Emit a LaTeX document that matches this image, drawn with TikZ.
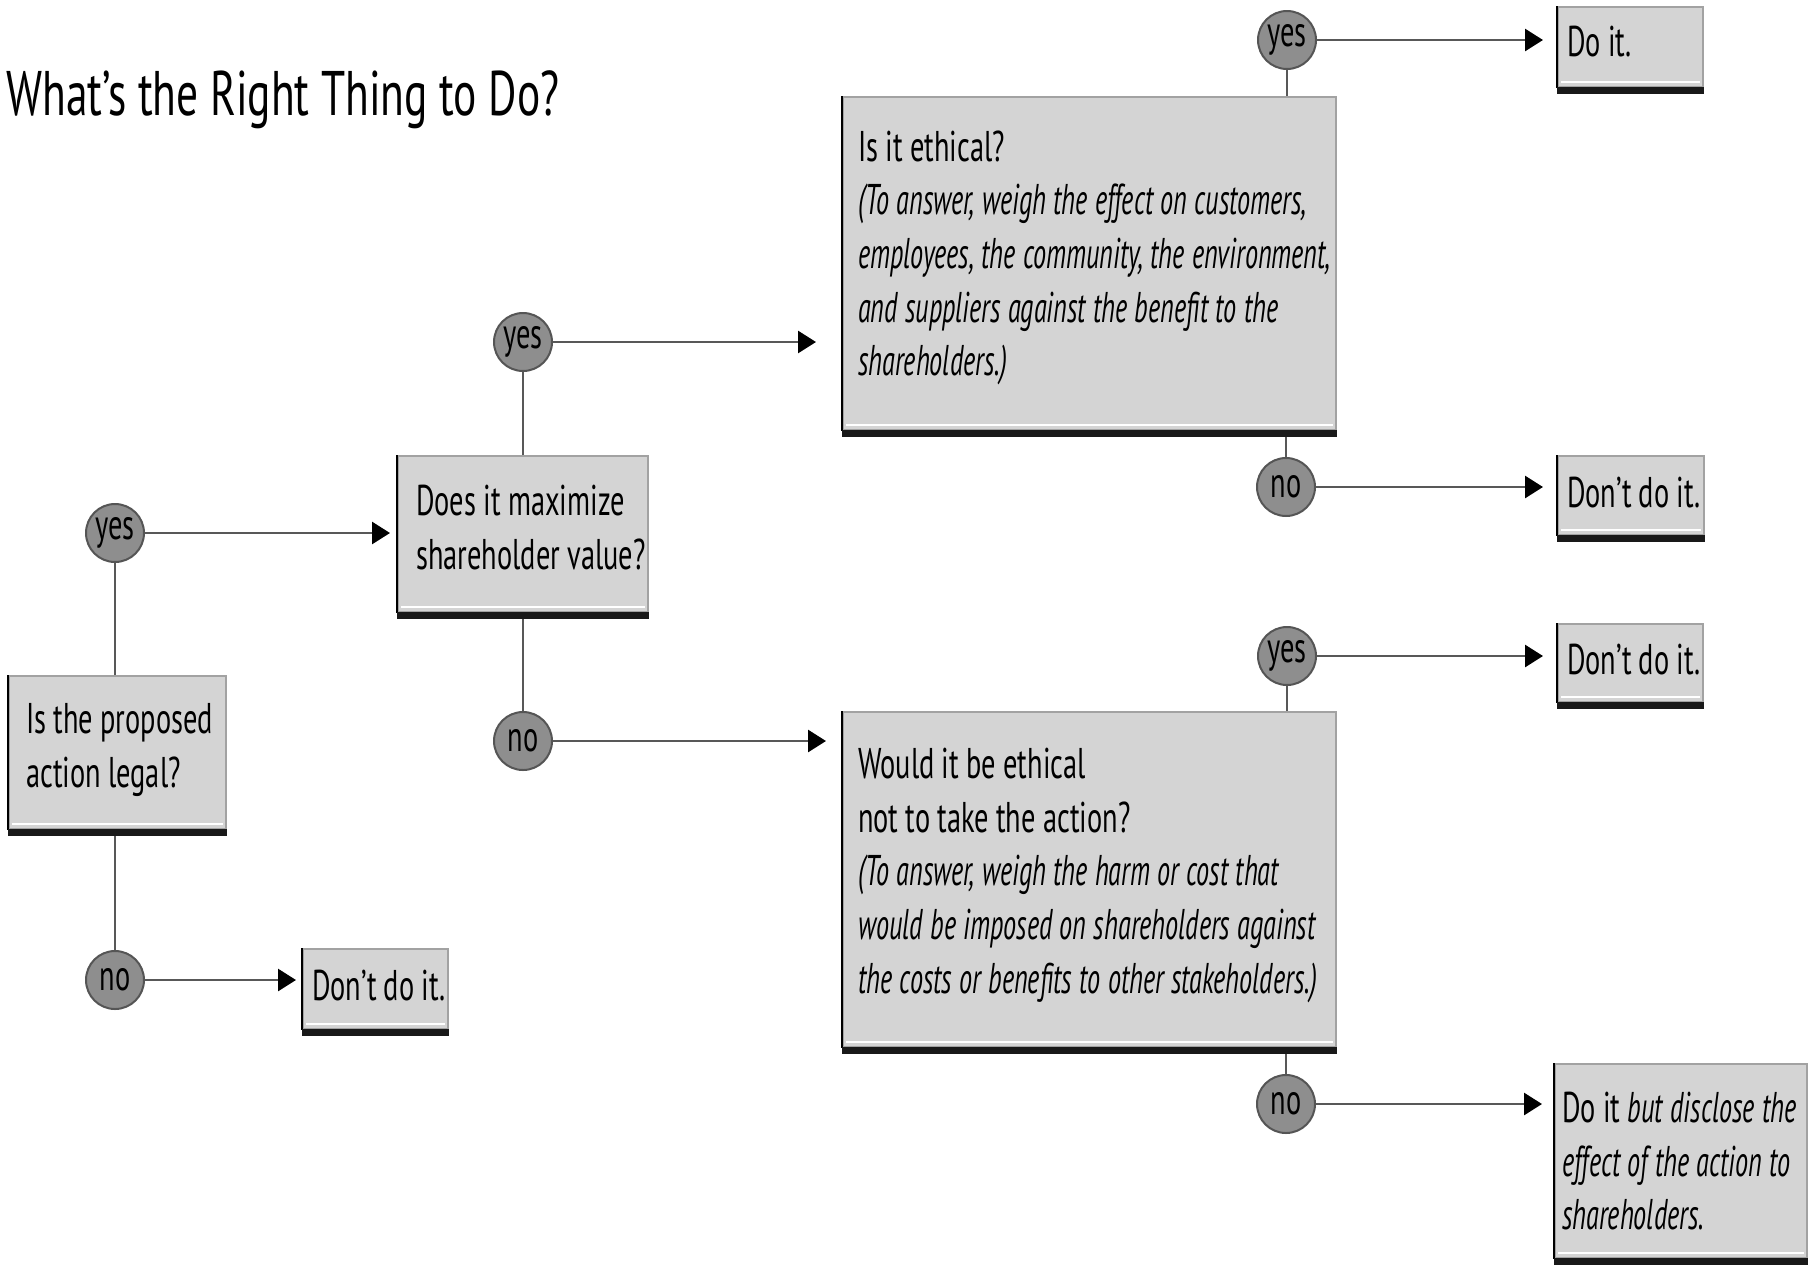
\documentclass[tikz,border=0pt]{standalone}
\usepackage{fontspec}
\setmainfont{PT Sans}[UprightFeatures={FakeStretch=0.66},ItalicFeatures={FakeStretch=0.61}]
\newfontfamily\titlefont{PT Sans}[FakeStretch=0.69]
\usetikzlibrary{arrows.meta,calc}
\definecolor{boxfill}{HTML}{D4D4D4}
\definecolor{boxrim}{HTML}{A2A2A2}
\definecolor{dotfill}{HTML}{8E8E8E}
\definecolor{dotrim}{HTML}{555555}
\definecolor{linkgray}{HTML}{585858}
\newcommand\lastdepth[1]{\rule[-#1]{0pt}{0pt}}
\tikzset{
  qbox/.style={draw=boxrim,line width=1.2pt,fill=boxfill,anchor=north west,align=left,
    inner xsep=0pt,inner ysep=0pt,font=\fontsize{21.5}{26.8}\selectfont,
    execute at begin node={\leftskip=#1\spaceskip=0.17em plus 0.05em minus 0.02em\hyphenpenalty=10000}},
  qbox/.default=8pt,
  answer/.style={circle,draw=dotrim,line width=1pt,fill=dotfill,minimum size=29pt,
    inner sep=0pt,font=\fontsize{21.5}{24}\selectfont},
  link/.style={draw=linkgray,line width=1.4pt},
  arr/.style={link,-{Triangle[length=9pt,width=11pt,color=black]}}
}
\begin{document}
\begin{tikzpicture}[x=0.5pt,y=-0.5pt]
\useasboundingbox (0,0) rectangle (1808,1264);
\node[anchor=base west,inner sep=0pt,font=\titlefont\fontsize{31.5}{36}\selectfont] (title) at (6,115) {What’s the Right Thing to Do?};

\node[qbox=8.5pt,text width=108.5pt,minimum height=76.5pt] (legal) at (8,675) {Is the proposed\\action legal?\lastdepth{7.5pt}};
\node[qbox=9pt,text width=125pt,minimum height=78pt] (maxval) at (397,455) {Does it maximize\\shareholder value?\lastdepth{7pt}};
\node[qbox=7.5pt,text width=246.5pt,minimum height=166.5pt] (ethical) at (842,96)
  {Is it ethical?\\\itshape (To answer, weigh the effect on customers,\\employees, the community, the environment,\\and suppliers against the benefit to the\\shareholders.)\lastdepth{10.5pt}};
\node[qbox=7.5pt,text width=246.5pt,minimum height=167.5pt] (notact) at (842,711)
  {Would it be ethical\\not to take the action?\\\itshape (To answer, weigh the harm or cost that\\would be imposed on shareholders against\\the costs or benefits to other stakeholders.)\lastdepth{9pt}};
\node[qbox=4.5pt,text width=72.5pt,minimum height=40pt,text depth=3.5pt] (dont1) at (302,948) {Don’t do it.};
\node[qbox=4.5pt,text width=72.5pt,minimum height=40pt,text depth=5.8pt] (doit) at (1557,6) {Do it.};
\node[qbox=4.5pt,text width=73pt,minimum height=39.5pt,text depth=3.5pt] (dont2) at (1557,455) {Don’t do it.};
\node[qbox=4.5pt,text width=72.5pt,minimum height=39pt,text depth=3.5pt] (dont3) at (1557,623) {Don’t do it.};
\node[qbox=3.5pt,text width=126pt,minimum height=97pt] (disclose) at (1554,1063)
  {Do it \textit{but disclose the}\\\itshape effect of the action to\\shareholders.};

\node[answer] (yes1) at (115,533) {yes};
\node[answer] (no1) at (115,980) {no};
\node[answer] (yes2) at (523,342) {yes};
\node[answer] (no2) at (523,741) {no};
\node[answer] (yes3) at (1287,40) {yes};
\node[answer] (no3) at (1286,487) {no};
\node[answer] (yes4) at (1287,656) {yes};
\node[answer] (no4) at (1286,1104) {no};

\draw[link] (yes1) -- (yes1 |- legal.north);
\draw[link] (no1) -- (no1 |- legal.south);
\draw[arr,shorten >=3.5pt] (yes1) -- (yes1 -| maxval.west);
\draw[arr,shorten >=3pt] (no1) -- (no1 -| dont1.west);
\draw[link] (yes2) -- (yes2 |- maxval.north);
\draw[link] (no2) -- (no2 |- maxval.south);
\draw[arr,shorten >=13pt] (yes2) -- (yes2 -| ethical.west);
\draw[arr,shorten >=8pt] (no2) -- (no2 -| notact.west);
\draw[link] (yes3) -- (yes3 |- ethical.north);
\draw[link] (no3) -- (no3 |- ethical.south);
\draw[arr,shorten >=7pt] (yes3) -- (yes3 -| doit.west);
\draw[arr,shorten >=7pt] (no3) -- (no3 -| dont2.west);
\draw[link] (yes4) -- (yes4 |- notact.north);
\draw[link] (no4) -- (no4 |- notact.south);
\draw[arr,shorten >=7pt] (yes4) -- (yes4 -| dont3.west);
\draw[arr,shorten >=6pt] (no4) -- (no4 -| disclose.west);

\foreach \b in {legal,maxval,ethical,notact,dont1,doit,dont2,dont3,disclose}{
  \draw[white,line width=1pt] ([shift={(2pt,3pt)}]\b.south west) -- ([shift={(-2pt,3pt)}]\b.south east);
  \draw[black,line width=1.2pt] (\b.north west) -- (\b.south west);
  \draw[black!90,line width=3.5pt] ([yshift=-1pt]\b.south west) -- ([yshift=-1pt]\b.south east);
}
\end{tikzpicture}
\end{document}
